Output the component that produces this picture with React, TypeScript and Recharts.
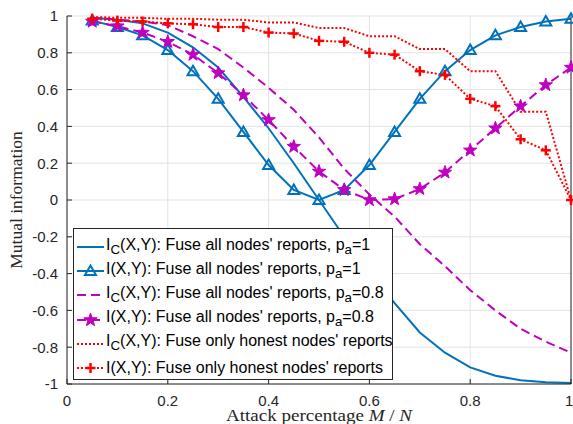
import React from "react";
import { CartesianGrid, Label, Legend, Line, LineChart, XAxis, YAxis } from "recharts";

// attack percentage M/N
const attackRatio = [
  0.05, 0.1, 0.15, 0.2, 0.25, 0.3, 0.35, 0.4, 0.45, 0.5, 0.55, 0.6, 0.65, 0.7, 0.75, 0.8, 0.85,
  0.9, 0.95, 1,
];

// I_C(X,Y), fuse all, pa=1
const icAllPa1 = [
  0.99, 0.98, 0.96, 0.91, 0.83, 0.72, 0.56, 0.39, 0.2, 0.0, -0.2, -0.39, -0.56, -0.72, -0.83,
  -0.91, -0.955, -0.98, -0.99, -0.995,
];
// I(X,Y), fuse all, pa=1
const iAllPa1 = [
  0.975, 0.94, 0.895, 0.815, 0.7, 0.55, 0.37, 0.19, 0.055, 0.0, 0.055, 0.19, 0.37, 0.55, 0.7,
  0.815, 0.895, 0.94, 0.97, 0.985,
];
// I_C(X,Y), fuse all, pa=0.8
const icAllPa08 = [
  0.99, 0.98, 0.97, 0.95, 0.89, 0.82, 0.72, 0.61, 0.49, 0.34, 0.17, 0.03, -0.09, -0.24, -0.36,
  -0.49, -0.6, -0.7, -0.77, -0.83,
];
// I(X,Y), fuse all, pa=0.8
const iAllPa08 = [
  0.97, 0.945, 0.91, 0.86, 0.79, 0.69, 0.57, 0.435, 0.29, 0.155, 0.055, 0.0, 0.005, 0.06, 0.15,
  0.27, 0.39, 0.51, 0.625, 0.72,
];
// I_C(X,Y), fuse only honest
const icHonest = [
  0.995, 0.99, 0.99, 0.985, 0.985, 0.98, 0.98, 0.965, 0.965, 0.935, 0.935, 0.89, 0.89, 0.82,
  0.82, 0.7, 0.7, 0.48, 0.48, 0.0,
];
// I(X,Y), fuse only honest
const iHonest = [
  0.985, 0.975, 0.97, 0.96, 0.955, 0.94, 0.94, 0.91, 0.905, 0.865, 0.86, 0.8, 0.79, 0.7, 0.68,
  0.55, 0.51, 0.33, 0.27, 0.0,
];

const xTicks = [0, 0.2, 0.4, 0.6, 0.8, 1];
const yTicks = [-1, -0.8, -0.6, -0.4, -0.2, 0, 0.2, 0.4, 0.6, 0.8, 1];

const BLUE = "#0072bd";
const MAGENTA = "#c000c0";
const RED = "#ff0000";
const AXIS = "#262626";
const GRID = "#e3e3e3";
const SANS = "'Liberation Sans', Arial, sans-serif";
const SERIF = "'Liberation Serif', 'Times New Roman', serif";

const data = attackRatio.map((x, i) => ({
  x,
  icAllPa1: icAllPa1[i],
  iAllPa1: iAllPa1[i],
  icAllPa08: icAllPa08[i],
  iAllPa08: iAllPa08[i],
  icHonest: icHonest[i],
  iHonest: iHonest[i],
}));

function trianglePath(cx: number, cy: number) {
  return `M${cx},${cy - 5.5} L${cx + 5.5},${cy + 4} L${cx - 5.5},${cy + 4} Z`;
}

function starPath(cx: number, cy: number) {
  const outer = 7;
  const inner = outer * 0.4;
  let d = "";
  for (let k = 0; k < 10; k++) {
    const r = k % 2 === 0 ? outer : inner;
    const a = ((-90 + 36 * k) * Math.PI) / 180;
    d += `${k === 0 ? "M" : "L"}${cx + r * Math.cos(a)},${cy + r * Math.sin(a)} `;
  }
  return d + "Z";
}

function TriangleDot(props: any) {
  const { cx, cy, index } = props;
  if (cx == null || cy == null) return <g key={`tri-${index}`} />;
  return <path key={`tri-${index}`} d={trianglePath(cx, cy)} fill="none" stroke={BLUE} strokeWidth={2} />;
}

function StarDot(props: any) {
  const { cx, cy, index } = props;
  if (cx == null || cy == null) return <g key={`star-${index}`} />;
  return <path key={`star-${index}`} d={starPath(cx, cy)} fill={MAGENTA} stroke={MAGENTA} strokeWidth={1} />;
}

function PlusDot(props: any) {
  const { cx, cy, index } = props;
  if (cx == null || cy == null) return <g key={`plus-${index}`} />;
  return (
    <g key={`plus-${index}`} stroke={RED} strokeWidth={2.5}>
      <line x1={cx - 5} x2={cx + 5} y1={cy} y2={cy} />
      <line x1={cx} x2={cx} y1={cy - 5} y2={cy + 5} />
    </g>
  );
}

const legendRows = [
  { color: BLUE, dash: undefined, marker: "none", label: <>I<sub>C</sub>(X,Y): Fuse all nodes' reports, p<sub>a</sub>=1</> },
  { color: BLUE, dash: undefined, marker: "triangle", label: <>I(X,Y): Fuse all nodes' reports, p<sub>a</sub>=1</> },
  { color: MAGENTA, dash: "9 5", marker: "none", label: <>I<sub>C</sub>(X,Y): Fuse all nodes' reports, p<sub>a</sub>=0.8</> },
  { color: MAGENTA, dash: "9 5", marker: "star", label: <>I(X,Y): Fuse all nodes' reports, p<sub>a</sub>=0.8</> },
  { color: RED, dash: "2 2", marker: "none", label: <>I<sub>C</sub>(X,Y): Fuse only honest nodes' reports</> },
  { color: RED, dash: "2 2", marker: "plus", label: <>I(X,Y): Fuse only honest nodes' reports</> },
];

function LegendBox() {
  return (
    <div
      style={{
        width: 318,
        height: 144,
        border: `1px solid ${AXIS}`,
        background: "#fff",
        fontFamily: SANS,
        fontSize: 16,
        color: "#000",
        paddingTop: 6,
        boxSizing: "content-box",
      }}
    >
      {legendRows.map((row, i) => (
        <div key={i} style={{ display: "flex", alignItems: "center", height: 24.2, whiteSpace: "nowrap" }}>
          <svg width={32} height={20} style={{ flex: "none" }}>
            <line x1={3} x2={30} y1={10} y2={10} stroke={row.color} strokeWidth={2} strokeDasharray={row.dash} />
            {row.marker === "triangle" && <path d={trianglePath(16.5, 10)} fill="none" stroke={BLUE} strokeWidth={2} />}
            {row.marker === "star" && <path d={starPath(16.5, 10)} fill={MAGENTA} stroke={MAGENTA} />}
            {row.marker === "plus" && (
              <g stroke={RED} strokeWidth={2.5}>
                <line x1={11.5} x2={21.5} y1={10} y2={10} />
                <line x1={16.5} x2={16.5} y1={5} y2={15} />
              </g>
            )}
          </svg>
          <span style={{ lineHeight: "16px" }}>{row.label}</span>
        </div>
      ))}
    </div>
  );
}

function XLabel(props: any) {
  const { viewBox } = props;
  const cx = viewBox.x + viewBox.width / 2;
  return (
    <text
      x={cx}
      y={viewBox.y + 37}
      textAnchor="middle"
      fontFamily={SERIF}
      fontSize={16}
      fill="#262626"
      textLength={186}
      lengthAdjust="spacingAndGlyphs"
    >
      Attack percentage <tspan fontStyle="italic">M</tspan> / <tspan fontStyle="italic">N</tspan>
    </text>
  );
}

function YLabel(props: any) {
  const { viewBox } = props;
  const cy = viewBox.y + viewBox.height / 2;
  return (
    <text x={22} y={cy} textAnchor="middle" fontFamily={SERIF} fontSize={17.5} fill="#262626" transform={`rotate(-90, 22, ${cy})`}>
      Mutual information
    </text>
  );
}

const tickStyle = { fill: "#262626", fontSize: 15, fontFamily: SANS };

export default function App() {
  return (
    <div style={{ position: "absolute", left: 0, top: 0, background: "#fff" }}>
      <LineChart width={573} height={424} data={data} margin={{ top: 16, right: 0, bottom: 0, left: 0 }}>
        <CartesianGrid stroke={GRID} strokeWidth={1} />
        <XAxis
          dataKey="x"
          type="number"
          domain={[0, 1]}
          ticks={xTicks}
          height={40}
          tickSize={-5}
          tickMargin={16}
          axisLine={{ stroke: AXIS }}
          tickLine={{ stroke: AXIS }}
          tick={tickStyle}
        >
          <Label content={<XLabel />} />
        </XAxis>
        <XAxis
          xAxisId="top"
          orientation="top"
          dataKey="x"
          type="number"
          domain={[0, 1]}
          ticks={xTicks}
          height={0}
          tickSize={-5}
          axisLine={{ stroke: AXIS }}
          tickLine={{ stroke: AXIS }}
          tick={() => <g />}
        />
        <YAxis
          type="number"
          domain={[-1, 1]}
          ticks={yTicks}
          width={67}
          tickSize={-5}
          tickMargin={14}
          axisLine={{ stroke: AXIS }}
          tickLine={{ stroke: AXIS }}
          tick={tickStyle}
        >
          <Label content={<YLabel />} />
        </YAxis>
        <YAxis
          yAxisId="right"
          orientation="right"
          type="number"
          domain={[-1, 1]}
          ticks={yTicks}
          width={2}
          tickSize={-5}
          axisLine={{ stroke: AXIS }}
          tickLine={{ stroke: AXIS }}
          tick={() => <g />}
        />
        <Legend
          layout="vertical"
          align="center"
          verticalAlign="middle"
          content={<LegendBox />}
          wrapperStyle={{ position: "absolute", left: 73, top: 228, width: 320, height: 150 }}
        />
        <Line dataKey="icAllPa1" stroke={BLUE} strokeWidth={2} dot={false} isAnimationActive={false} />
        <Line dataKey="iAllPa1" stroke={BLUE} strokeWidth={2} dot={TriangleDot} isAnimationActive={false} />
        <Line dataKey="icAllPa08" stroke={MAGENTA} strokeWidth={2} strokeDasharray="9 5" dot={false} isAnimationActive={false} />
        <Line dataKey="iAllPa08" stroke={MAGENTA} strokeWidth={2} strokeDasharray="9 5" dot={StarDot} isAnimationActive={false} />
        <Line dataKey="icHonest" stroke={RED} strokeWidth={2} strokeDasharray="2 2" dot={false} isAnimationActive={false} />
        <Line dataKey="iHonest" stroke={RED} strokeWidth={2} strokeDasharray="2 2" dot={PlusDot} isAnimationActive={false} />
      </LineChart>
    </div>
  );
}
